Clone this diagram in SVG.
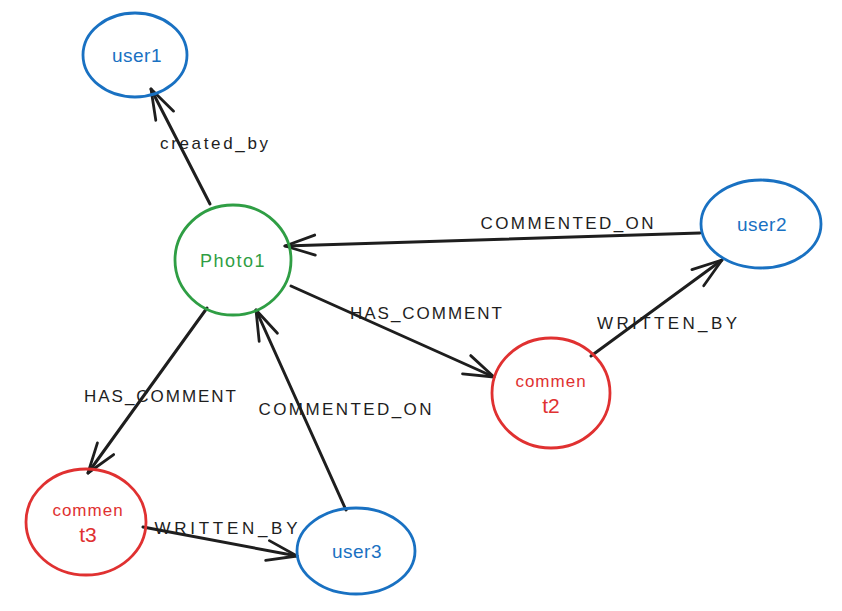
<svg xmlns="http://www.w3.org/2000/svg" width="842" height="611" viewBox="0 0 842 611">
<defs>
<marker id="arr" markerUnits="userSpaceOnUse" markerWidth="40" markerHeight="30" refX="0" refY="0" viewBox="-34 -15 40 30" orient="auto">
<path d="M -30 -10 L 0 0 L -30 10" fill="none" stroke="#1e1e1e" stroke-width="2.8" stroke-linecap="round" stroke-linejoin="round"/>
</marker>
</defs>
<style>
.node{fill:none;stroke-width:2.8}
.blue{stroke:#1971c2}
.green{stroke:#2f9e44}
.red{stroke:#e03131}
.t{font-family:"Liberation Sans","DejaVu Sans",sans-serif;text-anchor:middle;dominant-baseline:central}
.tb{fill:#1971c2;font-size:19px;letter-spacing:0.5px}
.tg{fill:#2f9e44;font-size:18px;letter-spacing:1.5px}
.tr{fill:#e03131}
.edge{fill:none;stroke:#1e1e1e;stroke-width:3;stroke-linecap:round;marker-end:url(#arr)}
.lbl{font-family:"Liberation Sans","DejaVu Sans",sans-serif;font-size:17px;fill:#1e1e1e;text-anchor:middle;dominant-baseline:central}
</style>
<rect width="842" height="611" fill="#ffffff"/>
<g id="connectors">
<g id="e-created_by"><path class="edge" d="M 210 204 L 151 89"/><text class="lbl" x="214" y="143" textLength="108" lengthAdjust="spacing">created_by</text></g>
<g id="e-user2-photo1"><path class="edge" d="M 700 233 L 285 246"/><text class="lbl" x="567" y="223" textLength="173" lengthAdjust="spacing">COMMENTED_ON</text></g>
<g id="e-photo1-c2"><path class="edge" d="M 291 286 L 494 377"/><text class="lbl" x="426" y="313" textLength="152" lengthAdjust="spacing">HAS_COMMENT</text></g>
<g id="e-c2-user2"><path class="edge" d="M 591 356 L 722 260"/><text class="lbl" x="667" y="323" textLength="140" lengthAdjust="spacing">WRITTEN_BY</text></g>
<g id="e-photo1-c3"><path class="edge" d="M 207 308 L 88 473"/><text class="lbl" x="160" y="396" textLength="152" lengthAdjust="spacing">HAS_COMMENT</text></g>
<g id="e-user3-photo1"><path class="edge" d="M 346 510 L 256 310"/><text class="lbl" x="345" y="409" textLength="173" lengthAdjust="spacing">COMMENTED_ON</text></g>
<g id="e-c3-user3"><path class="edge" d="M 143 527 L 297 556"/><text class="lbl" x="226" y="528" textLength="143" lengthAdjust="spacing">WRITTEN_BY</text></g>
</g>
<g id="user1"><ellipse class="node blue" cx="135" cy="55" rx="52" ry="42"/><text class="t tb" x="137" y="55">user1</text></g>
<g id="Photo1"><ellipse class="node green" cx="233" cy="260" rx="58" ry="55"/><text class="t tg" x="233" y="261">Photo1</text></g>
<g id="user2"><ellipse class="node blue" cx="761" cy="224" rx="60" ry="44"/><text class="t tb" x="762" y="224">user2</text></g>
<g id="comment2"><ellipse class="node red" cx="551" cy="393" rx="59" ry="55"/><text class="t tr" x="551" y="381" font-size="17" letter-spacing="1">commen</text><text class="t tr" x="551" y="405" font-size="21">t2</text></g>
<g id="comment3"><ellipse class="node red" cx="86" cy="522" rx="60" ry="53"/><text class="t tr" x="88" y="510" font-size="17" letter-spacing="1">commen</text><text class="t tr" x="88" y="534" font-size="21">t3</text></g>
<g id="user3"><ellipse class="node blue" cx="356" cy="551" rx="59" ry="43"/><text class="t tb" x="357" y="551">user3</text></g>
</svg>
